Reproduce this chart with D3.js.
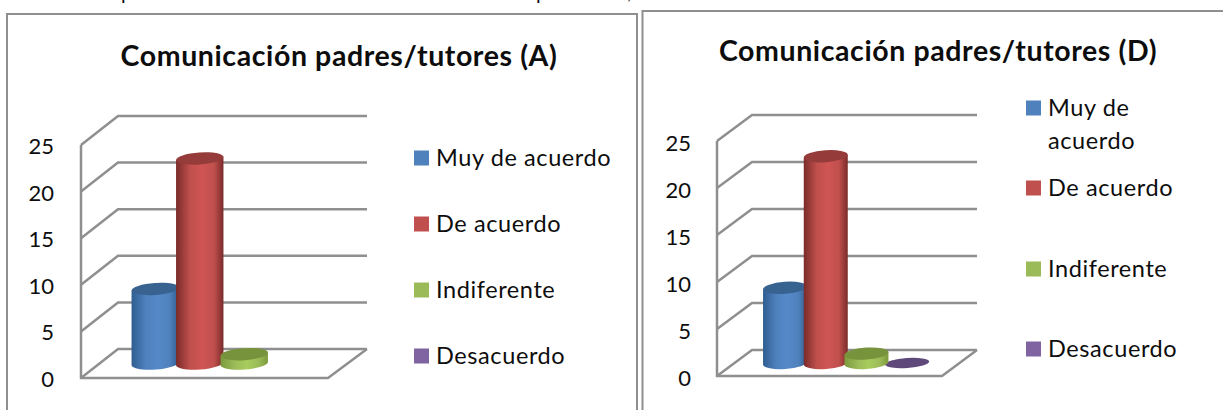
<!DOCTYPE html>
<html lang="es">
<head>
    <meta charset="UTF-8">
    <title>Comunicación padres/tutores</title>
    <script src="https://d3js.org/d3.v7.min.js"></script>
    <style>
        html, body { margin: 0; padding: 0; background: #fff; overflow: hidden; }
        svg { display: block; }
        text { font-family: Lato, "Open Sans", sans-serif; fill: #0d0d0d; }
    </style>
</head>
<body>
    <svg width="1223" height="410"></svg>
    <script>
        // datos
        var categories = ["Muy de acuerdo", "De acuerdo", "Indiferente", "Desacuerdo"];
        var valuesA = [8, 22, 1, null];
        var valuesD = [8, 22, 1, 0];
        var yTicks = [0, 5, 10, 15, 20, 25];
        var colors = ["#4f81bd", "#c0504d", "#9bbb59", "#8064a2"];
        var edgeColors = ["#2f5d90", "#7a2b2a", "#7c9a3c", "#5f497a"];
        var midColors = ["#5589c8", "#cf5553", "#a8cc5c", "#8064a2"];
        var topColors = ["#38628f", "#953c3a", "#77933c", "#5f497a"];
        // orden de dibujo: el verde queda encima del rojo y del morado
        var drawOrder = [0, 1, 3, 2];

        var gridColor = "#8f8f8f";
        var svg = d3.select("svg");

        // marcos de los dos graficos
        svg.append("path")
            .attr("d", "M7,410V14H637V410")
            .attr("fill", "none").attr("stroke", gridColor).attr("stroke-width", 2);
        svg.append("path")
            .attr("d", "M642.5,410V11H1223")
            .attr("fill", "none").attr("stroke", gridColor).attr("stroke-width", 2);

        // restos del texto de la linea superior, cortados por el borde
        [[121, "p"], [536, "p"], [627, ","]].forEach(function(d) {
            svg.append("text").attr("x", d[0]).attr("y", d[1] === "," ? -1 : 0)
                .attr("font-size", 20).text(d[1]);
        });

        // gradientes de los cilindros
        var defs = svg.append("defs");
        categories.forEach(function(c, i) {
            var grad = defs.append("linearGradient").attr("id", "cyl" + i);
            grad.append("stop").attr("offset", "0%").attr("stop-color", edgeColors[i]);
            grad.append("stop").attr("offset", "30%").attr("stop-color", colors[i]);
            grad.append("stop").attr("offset", "55%").attr("stop-color", midColors[i]);
            grad.append("stop").attr("offset", "80%").attr("stop-color", colors[i]);
            grad.append("stop").attr("offset", "100%").attr("stop-color", edgeColors[i]);
        });

        function drawChart(o) {
            var g = svg.append("g");
            var y = d3.scaleLinear().domain([0, 25]).range([o.y0, o.y25]);
            var x = d3.scaleBand().domain(categories).range(o.xRange);
            // misma escala, pero medida desde el centro de la base del cilindro
            var h = d3.scaleLinear().domain([0, 25]).range([0, o.y0 - o.y25]);

            g.append("text")
                .attr("x", o.titleX).attr("y", o.titleY)
                .attr("text-anchor", "middle")
                .attr("font-size", 28.5).attr("font-weight", 700)
                .attr("letter-spacing", 0.6)
                .text(o.title);

            // rejilla en perspectiva
            g.append("g").selectAll("path")
                .data(yTicks)
                .join("path")
                .attr("fill", "none").attr("stroke", gridColor).attr("stroke-width", 2.5)
                .attr("d", function(d) {
                    return "M" + o.left + "," + y(d) + "L" + o.backLeft + "," + (y(d) - o.depth) + "H" + o.backRight;
                });
            g.append("path")
                .attr("fill", "none").attr("stroke", gridColor).attr("stroke-width", 2.5)
                .attr("d", "M" + o.left + "," + y(25) + "V" + y(0) + "H" + o.frontRight + "L" + o.backRight + "," + (y(0) - o.depth));

            g.append("g").selectAll("text")
                .data(yTicks)
                .join("text")
                .attr("x", o.tickX).attr("y", function(d) { return y(d) + o.tickDy; })
                .attr("text-anchor", "end").attr("font-size", 22)
                .text(function(d) { return d; });

            // cilindros
            var rx = x.bandwidth() / 2 + o.overlap;
            var ry = 6;
            var tilt = -4;
            var dx = rx * Math.cos(tilt * Math.PI / 180);
            var dy = rx * Math.sin(tilt * Math.PI / 180);
            var baseY = y(0) - o.depth / 2;

            drawOrder.forEach(function(i) {
                var v = o.values[i];
                if (v === null) return;
                var cx = x(categories[i]) + x.bandwidth() / 2;
                var topY = baseY - h(v);
                if (v > 0) {
                    g.append("path")
                        .attr("fill", "url(#cyl" + i + ")")
                        .attr("d", "M" + (cx - dx) + "," + (topY - dy)
                            + "L" + (cx - dx) + "," + (baseY - dy)
                            + "A" + rx + "," + ry + " " + tilt + " 0 0 " + (cx + dx) + "," + (baseY + dy)
                            + "L" + (cx + dx) + "," + (topY + dy) + "Z");
                }
                g.append("ellipse")
                    .attr("cx", cx).attr("cy", topY)
                    .attr("rx", rx).attr("ry", v > 0 ? ry : ry - 1)
                    .attr("transform", "rotate(" + tilt + " " + cx + " " + topY + ")")
                    .attr("fill", topColors[i]);
            });

            // leyenda
            var leg = g.append("g").selectAll("g")
                .data(categories)
                .join("g")
                .attr("transform", function(d, i) { return "translate(" + o.legendX + "," + o.legendY[i] + ")"; });
            leg.append("rect")
                .attr("x", 0).attr("y", -7.5).attr("width", 15).attr("height", 15)
                .attr("fill", function(d, i) { return colors[i]; });
            leg.each(function(d) {
                var lines = o.legendLines[d] || [d];
                var t = d3.select(this);
                lines.forEach(function(line, k) {
                    t.append("text")
                        .attr("x", 22).attr("y", 7.5 + k * 33)
                        .attr("font-size", 23.5)
                        .attr("letter-spacing", 0.6)
                        .text(line);
                });
            });
        }

        drawChart({
            title: "Comunicación padres/tutores (A)",
            values: valuesA,
            titleX: 339, titleY: 66,
            y0: 378, y25: 145, depth: 29,
            left: 81, backLeft: 118, backRight: 367, frontRight: 328,
            xRange: [133, 311], overlap: 1.5,
            tickX: 54, tickDy: 9,
            legendX: 414, legendY: [158, 224, 290, 356],
            legendLines: {}
        });

        drawChart({
            title: "Comunicación padres/tutores (D)",
            values: valuesD,
            titleX: 938, titleY: 61,
            y0: 376, y25: 141, depth: 26,
            left: 717, backLeft: 752, backRight: 977, frontRight: 942,
            xRange: [764.7, 927.5], overlap: 1.7,
            tickX: 691, tickDy: 10,
            legendX: 1026, legendY: [108, 188, 269, 349],
            legendLines: {"Muy de acuerdo": ["Muy de", "acuerdo"]}
        });
    </script>
</body>
</html>
